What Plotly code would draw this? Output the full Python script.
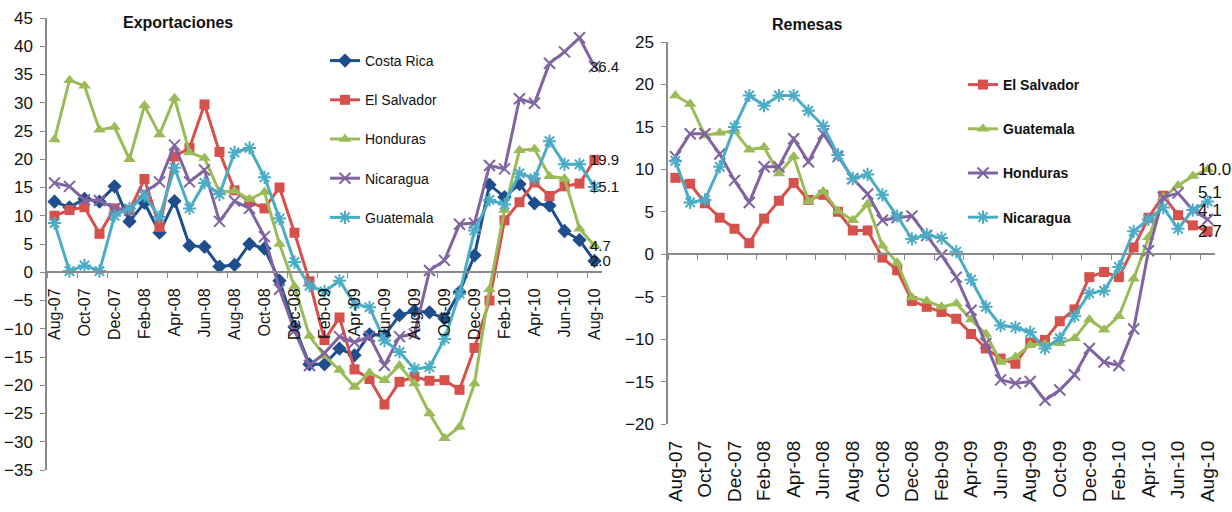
import plotly.graph_objects as go

# ---------------- data ----------------
months = ["Aug-07", "Sep-07", "Oct-07", "Nov-07", "Dec-07", "Jan-08", "Feb-08", "Mar-08",
          "Apr-08", "May-08", "Jun-08", "Jul-08", "Aug-08", "Sep-08", "Oct-08", "Nov-08",
          "Dec-08", "Jan-09", "Feb-09", "Mar-09", "Apr-09", "May-09", "Jun-09", "Jul-09",
          "Aug-09", "Sep-09", "Oct-09", "Nov-09", "Dec-09", "Jan-10", "Feb-10", "Mar-10",
          "Apr-10", "May-10", "Jun-10", "Jul-10", "Aug-10"]

# Exportaciones
exp_costa_rica = [12.5, 11.5, 13.0, 12.5, 15.2, 9.0, 12.3, 7.0, 12.6, 4.7,
                  4.5, 1.0, 1.3, 5.0, 4.2, -1.5, -9.7, -16.3, -16.3, -13.5,
                  -14.7, -11.0, -11.2, -7.6, -6.8, -7.1, -8.2, -3.5, 3.0, 15.5,
                  13.3, 15.6, 12.2, 11.8, 7.3, 5.7, 2.0]
exp_el_salvador = [10.0, 11.0, 11.5, 6.8, 11.3, 11.0, 16.5, 8.0, 20.5, 22.0,
                   29.7, 21.3, 14.5, 12.5, 11.3, 15.0, 7.0, -1.6, -12.0, -8.0,
                   -17.2, -18.9, -23.4, -19.4, -18.5, -19.2, -19.1, -20.8, -13.4, -5.0,
                   9.2, 12.4, 15.9, 13.5, 15.2, 15.7, 19.9]
exp_honduras = [23.5, 34.0, 33.0, 25.2, 25.7, 20.0, 29.5, 24.4, 30.8, 21.2,
                20.2, 14.2, 14.4, 12.9, 14.2, 5.0, -2.5, -11.3, -14.8, -17.3,
                -20.3, -17.8, -19.1, -16.5, -19.7, -25.0, -29.4, -27.4, -19.7, -3.0,
                11.0, 21.6, 21.8, 17.0, 16.6, 7.7, 4.7]
exp_nicaragua = [15.8, 15.2, 12.8, 12.7, 11.3, 11.0, 14.1, 16.0, 22.5, 16.0,
                 18.1, 9.0, 12.6, 11.3, 6.3, -3.0, -10.3, -16.5, -14.3, -11.4,
                 -12.4, -11.4, -16.5, -11.4, -10.9, 0.3, 2.1, 8.5, 8.7, 18.9,
                 18.3, 30.7, 29.9, 37.0, 39.0, 41.5, 36.4]
exp_guatemala = [8.7, 0.2, 1.2, 0.2, 10.0, 11.3, 13.5, 9.8, 18.5, 11.3,
                 15.8, 13.8, 21.2, 22.0, 16.8, 9.5, 1.8, -2.4, -3.4, -1.5,
                 -5.6, -6.2, -12.1, -14.1, -17.1, -16.8, -11.8, -3.8, 7.4, 12.8,
                 12.0, 17.5, 16.6, 23.2, 19.1, 19.1, 15.1]
exp_end_labels = ["2.0", "19.9", "4.7", "36.4", "15.1"]

# Remesas
rem_el_salvador = [9.0, 8.3, 6.0, 4.3, 3.0, 1.3, 4.2, 6.3, 8.4, 6.4,
                   7.0, 5.0, 2.8, 2.8, -0.4, -1.9, -5.5, -6.2, -6.8, -7.6,
                   -9.4, -11.1, -12.3, -12.9, -10.4, -10.1, -7.9, -6.5, -2.7, -2.1,
                   -2.7, 0.8, 4.3, 6.9, 4.6, 3.4, 2.7]
rem_guatemala = [18.7, 17.7, 14.0, 14.3, 14.5, 12.3, 12.6, 9.5, 11.5, 6.2,
                 7.4, 5.1, 4.0, 5.9, 1.0, -1.0, -5.1, -5.5, -6.2, -5.8,
                 -7.7, -9.4, -12.7, -12.1, -10.7, -10.6, -10.5, -9.9, -7.7, -8.9,
                 -7.3, -2.9, 2.0, 6.7, 8.1, 9.2, 10.0]
rem_honduras = [11.5, 14.2, 14.2, 11.8, 8.7, 6.1, 10.3, 10.3, 13.6, 10.9,
                14.2, 11.5, 8.9, 7.1, 4.0, 4.3, 4.5, 2.2, -0.1, -2.7,
                -6.6, -10.5, -14.8, -15.2, -15.0, -17.2, -16.0, -14.2, -11.1, -12.7,
                -13.1, -8.8, 0.4, 6.7, 7.2, 5.2, 4.1]
rem_nicaragua = [11.0, 6.1, 6.4, 10.3, 15.0, 18.7, 17.5, 18.7, 18.7, 16.9,
                 15.1, 11.7, 8.9, 9.4, 7.0, 4.5, 1.8, 2.3, 1.9, 0.3,
                 -3.0, -6.2, -8.4, -8.6, -9.2, -11.1, -9.9, -7.3, -4.6, -4.3,
                 -1.5, 2.7, 4.1, 5.5, 3.0, 5.2, 6.2]
rem_end_labels = ["2.7", "10.0", "4.1", "5.1"]

# ---------------- styling ----------------
W, H = 1232, 512
FONT = "Liberation Sans, Arial, Helvetica, sans-serif"
C_BLUE, C_RED, C_GREEN, C_PURPLE, C_CYAN = "#1F4E8C", "#D6504C", "#9BBB59", "#8064A2", "#4BACC6"
AX = "#8A8A8A"

# plot areas in pixels
L_X0, L_X1, L_YT, L_YB = 47, 602, 18, 470
R_X0, R_X1, R_YT, R_YB = 668, 1215, 42, 424
L_YMIN, L_YMAX = -35, 45
R_YMIN, R_YMAX = -20, 25


def px_x(p):
    return p / W


def px_y(p):
    return 1 - p / H


fig = go.Figure()


def add_line(x, y, name, color, symbol, msize, xa, ya, legend, mline=0):
    fig.add_trace(go.Scatter(
        x=x, y=y, name=name, mode="lines+markers",
        line=dict(color=color, width=3),
        marker=dict(symbol=symbol, size=msize, color=color,
                    line=dict(color=color, width=mline)),
        xaxis=xa, yaxis=ya, legend=legend, legendgroup=legend + name,
        hoverinfo="x+y+name"))


# left chart
left_series = [
    ("Costa Rica", exp_costa_rica, C_BLUE, "diamond", 11, 0),
    ("El Salvador", exp_el_salvador, C_RED, "square", 10, 0),
    ("Honduras", exp_honduras, C_GREEN, "triangle-up", 11, 0),
    ("Nicaragua", exp_nicaragua, C_PURPLE, "x-thin-open", 11, 2),
    ("Guatemala", exp_guatemala, C_CYAN, "asterisk-open", 11, 2),
]
for name, vals, col, sym, ms, ml in left_series:
    add_line(months, vals, name, col, sym, ms, "x", "y", "legend", ml)

# right chart
right_series = [
    ("El Salvador", rem_el_salvador, C_RED, "square", 10, 0),
    ("Guatemala", rem_guatemala, C_GREEN, "triangle-up", 11, 0),
    ("Honduras", rem_honduras, C_PURPLE, "x-thin-open", 11, 2),
    ("Nicaragua", rem_nicaragua, C_CYAN, "asterisk-open", 11, 2),
]
for name, vals, col, sym, ms, ml in right_series:
    add_line(months, vals, name, col, sym, ms, "x2", "y2", "legend2", ml)

# invisible carrier for the bottom label axis of the right chart
fig.add_trace(go.Scatter(x=months, y=rem_el_salvador, mode="markers",
                         marker=dict(opacity=0), xaxis="x3", yaxis="y2",
                         showlegend=False, hoverinfo="skip"))

# end-of-series labels
for (name, vals, col, *_), lab in zip(left_series, exp_end_labels):
    fig.add_annotation(x=months[-1], y=vals[-1], xref="x", yref="y", text=lab,
                       showarrow=False, xanchor="left", yanchor="middle", xshift=-7,
                       font=dict(family=FONT, size=15, color="#111"))
r_yshift = [0, 0, 9, 9]
for (name, vals, col, *_), lab, ys in zip(right_series, rem_end_labels, r_yshift):
    fig.add_annotation(x=months[-1], y=vals[-1], xref="x2", yref="y2", text=lab,
                       showarrow=False, xanchor="left", yanchor="middle", xshift=-12,
                       yshift=ys, font=dict(family=FONT, size=17, color="#111"))

# titles
fig.add_annotation(x=px_x(178), y=px_y(22), xref="paper", yref="paper",
                   xanchor="center", yanchor="middle",
                   text="<b>Exportaciones</b>", showarrow=False,
                   font=dict(family=FONT, size=16, color="#111"))
fig.add_annotation(x=px_x(807), y=px_y(24), xref="paper", yref="paper",
                   xanchor="center", yanchor="middle",
                   text="<b>Remesas</b>", showarrow=False,
                   font=dict(family=FONT, size=16, color="#111"))

l_ydom = [px_y(L_YB), px_y(L_YT)]
r_ydom = [px_y(R_YB), px_y(R_YT)]
l_zero = l_ydom[0] + (0 - L_YMIN) / (L_YMAX - L_YMIN) * (l_ydom[1] - l_ydom[0])
r_zero = r_ydom[0] + (0 - R_YMIN) / (R_YMAX - R_YMIN) * (r_ydom[1] - r_ydom[0])

cat_common = dict(type="category", categoryorder="array", categoryarray=months,
                  range=[-0.5, len(months) - 0.5], tickmode="linear", tick0=0, dtick=2,
                  tickson="boundaries", showgrid=False, zeroline=False)

fig.update_layout(
    width=W, height=H, margin=dict(l=0, r=0, t=0, b=0, autoexpand=False),
    paper_bgcolor="white", plot_bgcolor="white",
    font=dict(family=FONT, color="#111"),
    xaxis=dict(domain=[px_x(L_X0), px_x(L_X1)], anchor="free", position=l_zero,
               showline=True, linecolor=AX, linewidth=1.5, ticks="outside", ticklen=5,
               tickcolor=AX, tickangle=-90, ticklabelstandoff=9,
               tickfont=dict(family=FONT, size=16, color="#111"), **cat_common),
    yaxis=dict(domain=l_ydom, anchor="x", range=[L_YMIN, L_YMAX], dtick=5, tick0=0,
               showline=True, linecolor=AX, linewidth=1.5, ticks="outside", ticklen=5,
               tickcolor=AX, showgrid=False, zeroline=False, ticklabelstandoff=4,
               tickfont=dict(family=FONT, size=17, color="#111")),
    xaxis2=dict(domain=[px_x(R_X0), px_x(R_X1)], anchor="free", position=r_zero,
                showline=True, linecolor=AX, linewidth=1.5, ticks="outside", ticklen=5,
                tickcolor=AX, showticklabels=False, **cat_common),
    xaxis3=dict(overlaying="x2", anchor="y2", side="bottom", showline=False, ticks="",
                tickangle=-90, ticklabelstandoff=12,
                tickfont=dict(family=FONT, size=19, color="#111"),
                **{k: v for k, v in cat_common.items() if k != "tickson"}),
    yaxis2=dict(domain=r_ydom, anchor="x2", range=[R_YMIN, R_YMAX],
                dtick=5, tick0=0, showline=True, linecolor=AX, linewidth=1.5,
                ticks="outside", ticklen=5, tickcolor=AX, showgrid=False, zeroline=False,
                ticklabelstandoff=4, tickfont=dict(family=FONT, size=17, color="#111")),
    legend=dict(x=px_x(325), y=px_y(45), xanchor="left", yanchor="top",
                bgcolor="rgba(0,0,0,0)", traceorder="grouped", tracegroupgap=18,
                font=dict(family=FONT, size=14, color="#111"), itemwidth=30),
    legend2=dict(x=px_x(963), y=px_y(69), xanchor="left", yanchor="top",
                 bgcolor="rgba(0,0,0,0)", traceorder="grouped", tracegroupgap=23,
                 font=dict(family=FONT, size=14, color="#111", weight="bold"), itemwidth=30),
    showlegend=True,
)

fig.write_html(
    "out.html",
    config={"displayModeBar": False},
    post_script="document.body.style.margin='0';document.body.style.overflow='hidden';",
)
